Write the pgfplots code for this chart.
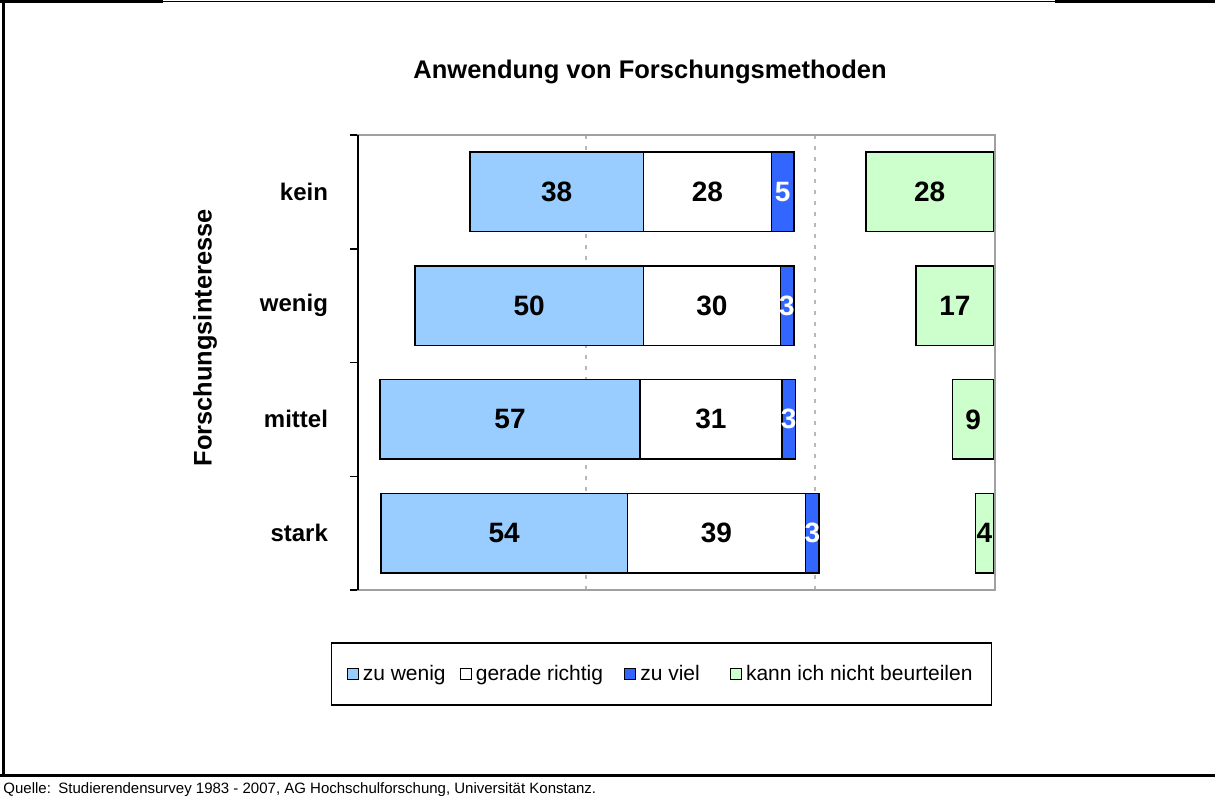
\documentclass[border=0pt]{standalone}
\usepackage{pgfplots}
\usepackage{pgfplotstable}
\pgfplotsset{compat=1.18}
\usepackage{fontspec}
\setmainfont{Liberation Sans}
\definecolor{zuwenig}{HTML}{99CCFF}
\definecolor{zuviel}{HTML}{3366FF}
\definecolor{kann}{HTML}{CCFFCC}
\definecolor{gridgray}{HTML}{B8B8B8}
\definecolor{boxgray}{HTML}{A0A0A0}

% y: 3=kein, 2=wenig, 1=mittel, 0=stark ; off/gap = invisible spacers
\pgfplotstableread{
y off wenig richtig viel gap kann
3 24.5 38 28 5 15.7 28
2 12.5 50 30 3 26.7 17
1 4.8 57 31 3 34.4 9
0 5.0 54 39 3 34.2 4
}\bars

\pgfplotstableread{
x y lab
43.5 3 38
76.5 3 28
125.2 3 28
37.5 2 50
77.5 2 30
130.7 2 17
33.3 1 57
77.3 1 31
134.7 1 9
32.0 0 54
78.5 0 39
137.2 0 4
}\blacklabels

\pgfplotstableread{
x y lab
93.0 3 5
93.9 2 3
94.3 1 3
99.5 0 3
}\whitelabels

\begin{document}
\begin{tikzpicture}
\useasboundingbox (0,0) rectangle (607.5pt,-398pt);
% outer frame
\draw[line width=1.5pt] (1.5pt,0) -- (1.5pt,-388.5pt);
\draw[line width=0.5pt] (0,-0.75pt) -- (607.5pt,-0.75pt);
\draw[line width=1.4pt] (0,-0.7pt) -- (81.5pt,-0.7pt);
\draw[line width=1.4pt] (527.5pt,-0.7pt) -- (607.5pt,-0.7pt);
\draw[line width=1.4pt] (0,-387.9pt) -- (607.5pt,-387.9pt);
% title
\node[anchor=base, font=\bfseries\fontsize{12.75}{15}\selectfont] at (325pt,-39.5pt) {Anwendung von Forschungsmethoden};
% footer
\node[anchor=base west, inner sep=0pt, font=\fontsize{7.5}{9}\selectfont] at (1.5pt,-396.8pt) {Quelle:};
\node[anchor=base west, inner sep=0pt, font=\fontsize{7.5}{9}\selectfont] at (29pt,-396.8pt) {Studierendensurvey 1983 - 2007, AG Hochschulforschung, Universität Konstanz.};

\begin{axis}[
  at={(179pt,-295pt)}, anchor=south west,
  width=318.5pt, height=227.5pt, scale only axis,
  xbar stacked, bar width=0.7,
  xmin=0, xmax=139.5, ymin=-0.5, ymax=3.5,
  xtick={50,100}, xticklabels={}, xmajorgrids,
  major x grid style={gridgray, line width=1.1pt, dash pattern=on 2pt off 3.5pt},
  ytick={0,1,2,3}, yticklabels={stark,mittel,wenig,kein},
  minor ytick={-0.5,0.5,1.5,2.5,3.5},
  major tick length=0pt, minor tick length=4pt,
  tick align=outside, tick pos=left,
  tick style={black, line width=0.75pt},
  yticklabel style={font=\bfseries\fontsize{12}{14}\selectfont, xshift=-11.5pt},
  axis line style={boxgray, line width=0.75pt},
  ylabel={Forschungsinteresse},
  ylabel style={font=\bfseries\fontsize{12.7}{15}\selectfont, at={(axis description cs:-0.240,0.554)}, anchor=center},
  legend columns=-1,
  legend image code/.code={\draw[#1, line width=0.5pt] (0pt,-2.8pt) rectangle (5.6pt,2.8pt);},
  legend style={at={(0.4765,-0.1846)}, anchor=center, draw=black, line width=0.75pt,
    font=\fontsize{10.5}{12}\selectfont, inner xsep=7.5pt, inner ysep=9pt,
    /tikz/column 2/.style={column sep=5pt},
    /tikz/column 4/.style={column sep=8.5pt},
    /tikz/column 6/.style={column sep=13pt}},
  after end axis/.code={\draw[black, line width=0.9pt] (rel axis cs:0,0) -- (rel axis cs:0,1);},
]
\addplot[draw=none, fill=none, forget plot] table[x=off, y=y]{\bars};
\addplot[fill=zuwenig, draw=black, line width=0.75pt] table[x=wenig, y=y]{\bars};
\addlegendentry{zu wenig}
\addplot[fill=white, draw=black, line width=0.75pt] table[x=richtig, y=y]{\bars};
\addlegendentry{gerade richtig}
\addplot[fill=zuviel, draw=black, line width=0.75pt] table[x=viel, y=y]{\bars};
\addlegendentry{zu viel}
\addplot[draw=none, fill=none, forget plot] table[x=gap, y=y]{\bars};
\addplot[fill=kann, draw=black, line width=0.75pt] table[x=kann, y=y]{\bars};
\addlegendentry{kann ich nicht beurteilen}
\end{axis}

\begin{axis}[
  at={(179pt,-295pt)}, anchor=south west,
  width=318.5pt, height=227.5pt, scale only axis,
  xmin=0, xmax=139.5, ymin=-0.5, ymax=3.5,
  hide axis, clip=false,
]
\addplot[draw=none, mark=none, nodes near coords, point meta=explicit symbolic,
  nodes near coords align=center,
  every node near coord/.append style={anchor=center, black, font=\bfseries\fontsize{14}{16}\selectfont}]
  table[x=x, y=y, meta=lab]{\blacklabels};
\addplot[draw=none, mark=none, nodes near coords, point meta=explicit symbolic,
  nodes near coords align=center,
  every node near coord/.append style={anchor=center, white, font=\bfseries\fontsize{14}{16}\selectfont}]
  table[x=x, y=y, meta=lab]{\whitelabels};
\end{axis}
\end{tikzpicture}
\end{document}
